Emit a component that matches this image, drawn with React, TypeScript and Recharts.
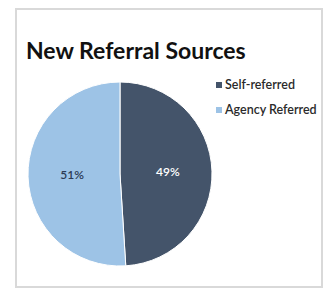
import { Pie, PieChart, Cell } from "recharts";

const sources = ["Self-referred", "Agency Referred"];
const shares = [49, 51];
const colors = ["#44546a", "#9dc3e6"];
const labelColors = ["#ffffff", "#2b3b55"];

const data = sources.map((name, i) => ({ name, value: shares[i] }));

const RAD = Math.PI / 180;
const FONT = "Lato, 'Open Sans', sans-serif";

function renderLabel(props: any) {
  const { cx, cy, midAngle, outerRadius, index, value } = props;
  const r = outerRadius * 0.52;
  const x = cx + r * Math.cos(-midAngle * RAD);
  const y = cy + r * Math.sin(-midAngle * RAD);
  return (
    <text
      x={x}
      y={y - 1}
      fill={labelColors[index]}
      textAnchor="middle"
      dominantBaseline="central"
      fontSize={12}
      fontWeight={600}
      fontFamily={FONT}
    >
      {`${value}%`}
    </text>
  );
}

export default function App() {
  return (
    <div style={{ position: "relative", width: 329, height: 293, background: "#fff" }}>
      <style>{"body{margin:0}"}</style>
      <div
        style={{
          position: "absolute",
          left: 15,
          top: 8,
          width: 308,
          height: 280,
          border: "2px solid #d9d9d9",
          boxSizing: "border-box",
        }}
      />
      <div
        style={{
          position: "absolute",
          left: 26,
          top: 37,
          fontFamily: FONT,
          fontWeight: 700,
          fontSize: 23,
          lineHeight: 1.2,
          color: "#111",
          whiteSpace: "nowrap",
        }}
      >
        New Referral Sources
      </div>
      <div style={{ position: "absolute", left: 0, top: 0 }}>
        <PieChart width={329} height={293} margin={{ top: 0, right: 0, bottom: 0, left: 0 }}>
          <Pie
            data={data}
            dataKey="value"
            nameKey="name"
            cx={120}
            cy={174}
            outerRadius={92}
            startAngle={90}
            endAngle={-270}
            stroke="#ffffff"
            strokeWidth={1}
            label={renderLabel}
            labelLine={false}
            isAnimationActive={false}
          >
            {data.map((d, i) => (
              <Cell key={d.name} fill={colors[i]} />
            ))}
          </Pie>
        </PieChart>
      </div>
      {data.map((d, i) => (
        <div
          key={d.name}
          style={{
            position: "absolute",
            left: 216,
            top: 77 + i * 25,
            display: "flex",
            alignItems: "center",
            fontFamily: FONT,
            fontSize: 12.5,
            fontWeight: 600,
            lineHeight: 1.2,
            color: "#2a2a2a",
            whiteSpace: "nowrap",
          }}
        >
          <span
            style={{
              display: "inline-block",
              width: 6,
              height: 6,
              background: colors[i],
              marginRight: 3,
            }}
          />
          {d.name}
        </div>
      ))}
    </div>
  );
}
